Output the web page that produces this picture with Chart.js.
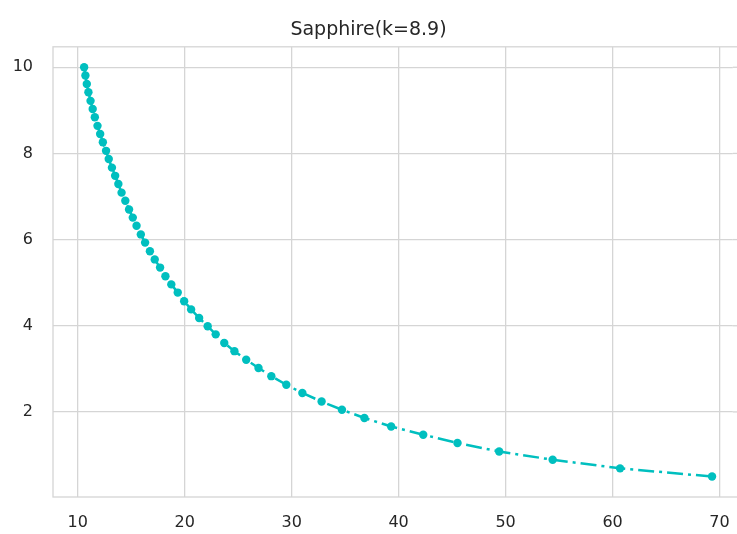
<!DOCTYPE html>
<html>
<head>
<meta charset="utf-8">
<title>Sapphire(k=8.9)</title>
<script src="https://cdn.jsdelivr.net/npm/chart.js@4/dist/chart.umd.min.js"></script>
<style>
    body { margin: 0; background: #ffffff; }
    #wrap { width: 737px; height: 534px; }
</style>
</head>
<body>
<div id="wrap"><canvas id="sapphireChart" width="737" height="534"></canvas></div>
<script>
var chartTitle = 'Sapphire(k=8.9)';

var xValues = [10.6, 10.72, 10.85, 11.0, 11.2, 11.4, 11.6, 11.85, 12.1, 12.35,
    12.65, 12.9, 13.2, 13.5, 13.8, 14.1, 14.45, 14.8, 15.15, 15.5,
    15.9, 16.3, 16.75, 17.2, 17.7, 18.2, 18.75, 19.35, 19.95, 20.6,
    21.35, 22.15, 22.9, 23.7, 24.65, 25.75, 26.9, 28.1, 29.5, 31.0,
    32.8, 34.7, 36.8, 39.3, 42.3, 45.5, 49.4, 54.4, 60.7, 69.3];

var yValues = [10.0, 9.81, 9.61, 9.42, 9.22, 9.03, 8.84, 8.64, 8.45, 8.26,
    8.06, 7.87, 7.67, 7.48, 7.29, 7.09, 6.90, 6.70, 6.51, 6.32,
    6.12, 5.93, 5.73, 5.54, 5.35, 5.15, 4.96, 4.77, 4.57, 4.38,
    4.18, 3.99, 3.80, 3.60, 3.41, 3.21, 3.02, 2.83, 2.63, 2.44,
    2.24, 2.05, 1.86, 1.66, 1.47, 1.28, 1.08, 0.89, 0.69, 0.5];

var xTicks = [10, 20, 30, 40, 50, 60, 70];
var yTicks = [2, 4, 6, 8, 10];

var points = [];
for (var i = 0; i < xValues.length; i++) {
    points.push({ x: xValues[i], y: yValues[i] });
}

var textColor = '#262626';
var gridColor = '#d5d5d5';

// light frame round the plot area, like the other spines
var framePlugin = {
    id: 'frame',
    beforeDatasetsDraw: function (chart) {
        var a = chart.chartArea;
        var ctx = chart.ctx;
        ctx.save();
        ctx.strokeStyle = gridColor;
        ctx.lineWidth = 1.3;
        ctx.strokeRect(a.left, a.top, a.right - a.left + 10, a.bottom - a.top);
        // horizontal grid runs on to the edge of the canvas
        chart.scales.y.ticks.forEach(function (t) {
            var py = chart.scales.y.getPixelForValue(t.value);
            ctx.beginPath();
            ctx.moveTo(a.right, py);
            ctx.lineTo(chart.width, py);
            ctx.stroke();
        });
        ctx.restore();
    }
};

var ctx = document.getElementById('sapphireChart').getContext('2d');
new Chart(ctx, {
    type: 'scatter',
    data: {
        datasets: [{
            label: chartTitle,
            data: points,
            showLine: true,
            borderColor: '#00bfbf',
            backgroundColor: '#00bfbf',
            borderWidth: 2.5,
            borderDash: [16, 5, 3, 5],
            pointRadius: 4.2,
            pointBorderWidth: 0,
            pointBackgroundColor: '#00bfbf'
        }]
    },
    options: {
        responsive: false,
        animation: false,
        layout: { padding: { left: 0, right: 0, top: 0, bottom: 0 } },
        plugins: {
            legend: { display: false },
            tooltip: { enabled: false },
            title: {
                display: true,
                text: chartTitle,
                color: textColor,
                font: { family: 'DejaVu Sans', size: 19, weight: 'normal' },
                padding: { top: 19, bottom: 5 }
            }
        },
        scales: {
            x: {
                type: 'linear',
                min: 7.69,
                max: 71.24,
                afterBuildTicks: function (scale) {
                    scale.ticks = xTicks.map(function (v) { return { value: v }; });
                },
                afterFit: function (scale) {
                    scale.height = 37;
                    scale.paddingLeft = 0;
                    scale.paddingRight = 0;
                },
                ticks: {
                    color: textColor,
                    font: { family: 'DejaVu Sans', size: 16 },
                    padding: 16,
                    maxRotation: 0
                },
                grid: { color: gridColor, lineWidth: 1.3, drawTicks: false },
                border: { display: false }
            },
            y: {
                min: 0.025,
                max: 10.475,
                afterBuildTicks: function (scale) {
                    scale.ticks = yTicks.map(function (v) { return { value: v }; });
                },
                afterFit: function (scale) {
                    scale.width = 53;
                    scale.paddingTop = 0;
                    scale.paddingBottom = 0;
                },
                ticks: {
                    color: textColor,
                    font: { family: 'DejaVu Sans', size: 16 },
                    padding: 20
                },
                grid: { color: gridColor, lineWidth: 1.3, drawTicks: false },
                border: { display: false }
            }
        }
    },
    plugins: [framePlugin]
});
</script>
</body>
</html>
